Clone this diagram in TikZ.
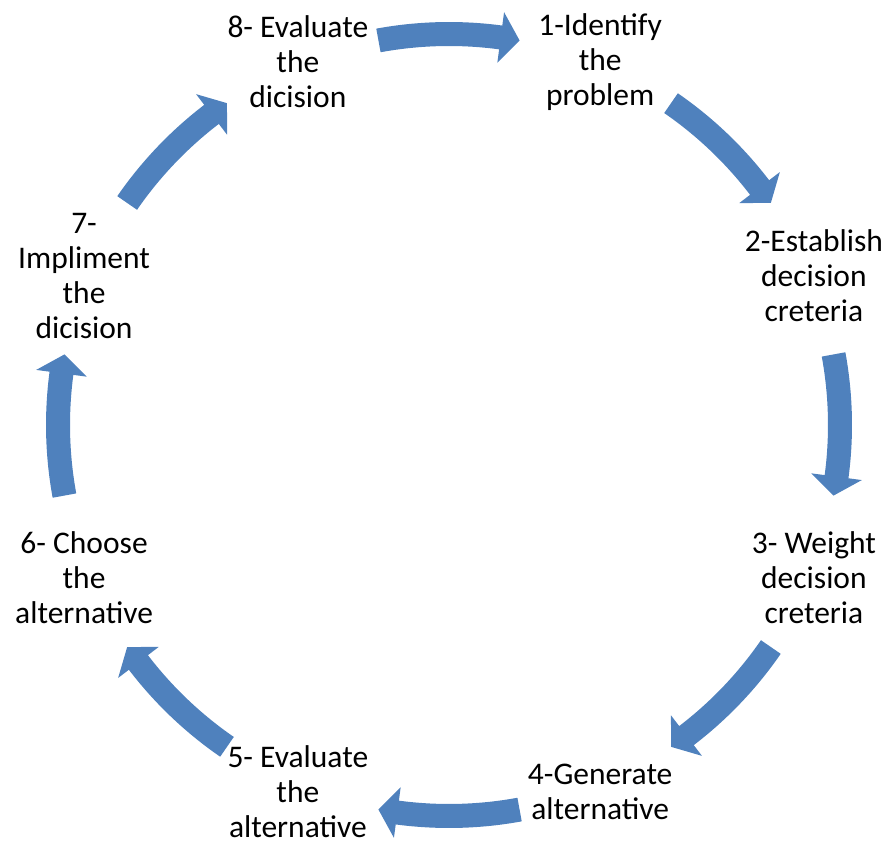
\documentclass[tikz,border=0pt]{standalone}
\usepackage{fontspec}
\setmainfont{Carlito}
\usetikzlibrary{calc}
\definecolor{sablue}{RGB}{79,129,189}
\tikzset{
  lbl/.style={align=center, inner sep=0pt, font=\fontsize{31.5}{35}\selectfont, text=black},
  blockarrow/.style={fill=sablue, draw=none}
}
% #1 = mid angle
\newcommand{\cyclearrow}[1]{%
  \pgfmathsetmacro{\aT}{#1+10.4}%
  \pgfmathsetmacro{\aB}{#1-7.6}%
  \pgfmathsetmacro{\aP}{#1-10.4}%
  \fill[blockarrow] (\aT:379) arc[start angle=\aT, end angle=\aB, radius=379]
    -- (\aB:365.5) -- (\aP:391) -- (\aB:416.5) -- (\aB:403)
    arc[start angle=\aB, end angle=\aT, radius=403] -- cycle;%
}
\begin{document}
\begin{tikzpicture}[x=1pt,y=1pt]
\useasboundingbox (0,0) rectangle (888,841);
\coordinate (c) at (449,416);
\coordinate (t) at (449,414);
\begin{scope}[shift={(c)}]
  \foreach \m in {90,45,0,-45,-90,-135,-180,-225} {\cyclearrow{\m}}
\end{scope}
\node[lbl] (n1) at ($(t)+(67.5:395)$) {1-Identify\\the\\problem};
\node[lbl] (n2) at ($(t)+(22.5:395)$) {2-Establish\\decision\\creteria};
\node[lbl] (n3) at ($(t)+(-22.5:395)$) {3- Weight\\decision\\creteria};
\node[lbl] (n4) at ($(t)+(-67.5:395)$) {4-Generate\\alternative};
\node[lbl] (n5) at ($(t)+(-112.5:395)$) {5- Evaluate\\the\\alternative};
\node[lbl] (n6) at ($(t)+(-157.5:395)$) {6- Choose\\the\\alternative};
\node[lbl] (n7) at ($(t)+(157.5:395)$) {7-\\Impliment\\the\\dicision};
\node[lbl] (n8) at ($(t)+(112.5:395)$) {8- Evaluate\\the\\dicision};
\end{tikzpicture}
\end{document}
